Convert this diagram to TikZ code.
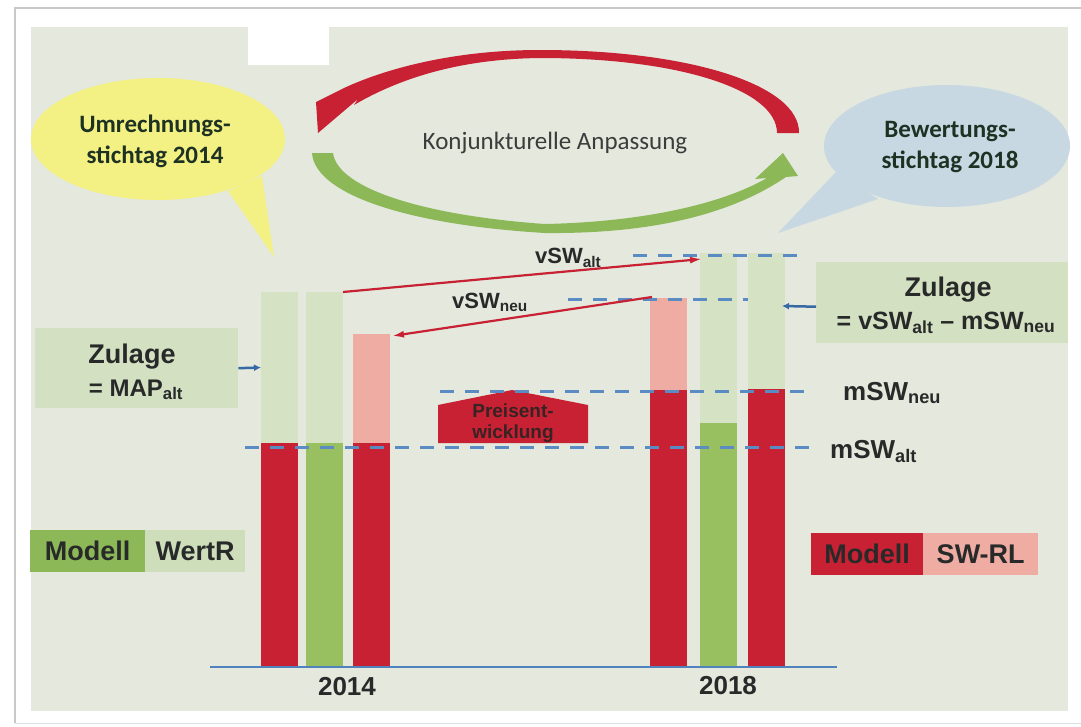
\documentclass[tikz,border=0pt]{standalone}
\usepackage{fontspec}
\usetikzlibrary{arrows.meta}
\newfontfamily\carl{Carlito}
\newfontfamily\lib{Liberation Sans}
\definecolor{bgc}{RGB}{228,232,221}
\definecolor{framec}{RGB}{200,200,200}
\definecolor{yel}{RGB}{244,241,132}
\definecolor{blu}{RGB}{200,216,226}
\definecolor{redc}{RGB}{201,33,52}
\definecolor{pinkc}{RGB}{238,172,162}
\definecolor{lgrn}{RGB}{214,226,196}
\definecolor{grn}{RGB}{152,192,96}
\definecolor{agrn}{RGB}{140,184,88}
\definecolor{zbox}{RGB}{211,224,193}
\definecolor{wbox}{RGB}{206,221,186}
\definecolor{dashc}{RGB}{90,140,195}
\definecolor{basec}{RGB}{80,130,190}
\definecolor{bluarr}{RGB}{55,105,165}
\definecolor{txt}{RGB}{40,42,42}
\definecolor{ttl}{RGB}{30,50,35}
\tikzset{
  barbox/.style={inner sep=0pt, outer sep=0pt, anchor=north west, minimum width=37pt},
  dline/.style={draw=dashc, line width=3pt, dash pattern=on 14pt off 11pt},
  redcon/.style={draw=redc, line width=2.2pt, -{Latex[length=12pt,width=7pt]}},
  bluar/.style={draw=bluarr, line width=2.5pt, -{Latex[length=7pt,width=7pt]}},
  lbl/.style={text=txt, font=\lib\bfseries\fontsize{22}{26}\selectfont, inner sep=0pt},
  mlbl/.style={text=txt, font=\lib\bfseries\fontsize{26}{30}\selectfont, inner sep=0pt},
  legbox/.style={anchor=north west, inner sep=0pt, minimum height=42pt, text=txt,
    font=\lib\bfseries\fontsize{27}{30}\selectfont},
  bubtxt/.style={text=ttl, align=center, font=\carl\bfseries\fontsize{25}{31}\selectfont},
}
\begin{document}
\begin{tikzpicture}[x=1pt,y=-1pt]
\useasboundingbox (0,0) rectangle (1081,726);
\fill[white] (0,0) rectangle (1081,726);
% faint scan frame
\draw[framec, line width=1.5pt] (15,723) -- (15,8) -- (1081,8);
\draw[framec!60, line width=1pt] (15,723) -- (1081,723);
% background
\fill[bgc] (31,27) rectangle (1068,711);
\fill[white] (248,27) rectangle (329,65);

% speech bubbles
\fill[yel] (158,139) ellipse [x radius=127pt, y radius=61pt];
\fill[yel] (228,191) -- (262,176) -- (274,257) -- cycle;
\fill[blu] (947,146) ellipse [x radius=123pt, y radius=61pt];
\fill[blu] (836,172) -- (878,199) -- (778,233) -- cycle;
\node[bubtxt] (ubub) at (155,141) {Umrechnungs-\\stichtag 2014};
\node[bubtxt] (bbub) at (950,147) {Bewertungs-\\stichtag 2018};

% cycle arrows
\fill[redc] (799,133) .. controls (800,85) and (690,50) .. (540,50)
  .. controls (440,50) and (370,75) .. (340,90) -- (316,102) -- (318,133)
  -- (358,99) -- (354,105)
  .. controls (400,78) and (460,59) .. (540,58)
  .. controls (680,58) and (777,90) .. (777,133) -- cycle;
\fill[agrn] (312,153) .. controls (315,195) and (410,225) .. (545,233)
  .. controls (650,234) and (730,215) .. (786,177)
  -- (798,176) -- (783,153) -- (755,179) -- (767,178)
  .. controls (720,205) and (640,222) .. (545,224)
  .. controls (430,216) and (338,190) .. (333,153) -- cycle;
\node[text={rgb,255:red,60;green,60;blue,60}, font=\carl\fontsize{25}{30}\selectfont] (konj) at (555,143) {Konjunkturelle Anpassung};

% Zulage boxes
\node[fill=zbox, anchor=north west, inner sep=0pt, minimum width=203pt, minimum height=80pt] (ZulL) at (35,328) {};
\node[anchor=base, text=txt, inner sep=0pt, font=\lib\bfseries\fontsize{27}{30}\selectfont] (zl1) at (132,363) {Zulage};
\node[anchor=base, text=txt, inner sep=0pt, font=\lib\bfseries\fontsize{24}{28}\selectfont] (zl2) at (136,396) {= MAP\textsubscript{alt}};
\node[fill=zbox, anchor=north west, inner sep=0pt, minimum width=252pt, minimum height=81pt] (ZulR) at (816,262) {};
\node[anchor=base, text=txt, inner sep=0pt, font=\lib\bfseries\fontsize{27}{30}\selectfont] (zr1) at (948,296) {Zulage};
\node[anchor=base, text=txt, inner sep=0pt, font=\lib\bfseries\fontsize{25}{28}\selectfont] (zr2) at (946,329) {= vSW\textsubscript{alt} \textendash{} mSW\textsubscript{neu}};

% bars 2014
\node[barbox, fill=lgrn, minimum height=151pt] (B1t) at (261,292) {};
\node[barbox, fill=redc, minimum height=224pt] (B1b) at (261,443) {};
\node[barbox, fill=lgrn, minimum height=151pt] (B2t) at (306,292) {};
\node[barbox, fill=grn, minimum height=224pt] (B2b) at (306,443) {};
\node[barbox, fill=pinkc, minimum height=109pt] (B3t) at (353,334) {};
\node[barbox, fill=redc, minimum height=224pt] (B3b) at (353,443) {};
% bars 2018
\node[barbox, fill=pinkc, minimum height=92pt] (C1t) at (650,298) {};
\node[barbox, fill=redc, minimum height=277pt] (C1b) at (650,390) {};
\node[barbox, fill=lgrn, minimum height=170pt] (C2t) at (700,253) {};
\node[barbox, fill=grn, minimum height=244pt] (C2b) at (700,423) {};
\node[barbox, fill=lgrn, minimum height=136pt] (C3t) at (748,253) {};
\node[barbox, fill=redc, minimum height=278pt] (C3b) at (748,389) {};

% Preisentwicklung
\fill[redc] (438,443) -- (438,405) -- (512,390) -- (588,405) -- (588,443) -- cycle;
\node[align=center, text={rgb,255:red,55;green,35;blue,35}, font=\lib\bfseries\fontsize{19}{21}\selectfont] (preis) at (513,423) {Preisent-\\wicklung};

% dashed levels
\draw[dline] (633,255) -- (797,255);
\draw[dline] (568,299) -- (748,299);
\draw[dline] (440,391) -- (805,391);
\draw[dline] (245,447) -- (812,447);
% base line
\draw[basec, line width=2.5pt] (210,667) -- (837,667);

% connectors
\draw[redcon] (B2t.north east) -- ([xshift=2pt,yshift=-6pt]C2t.north west);
\draw[redcon] ([xshift=2pt,yshift=1pt]C1t.north west) -- ([xshift=2pt,yshift=-2pt]B3t.north east);
\draw[bluar] (ZulL.east) -- (B1t.west);
\coordinate (rtip) at (782,306);
\draw[bluar] ([yshift=-4pt]ZulR.west) -- (rtip);

% labels
\node[lbl, anchor=base west] (vswalt) at (535,263) {vSW\textsubscript{alt}};
\node[lbl, anchor=base west] (vswneu) at (452,308) {vSW\textsubscript{neu}};
\node[mlbl, anchor=base west] (mswneu) at (843,400) {mSW\textsubscript{neu}};
\node[mlbl, anchor=base west] (mswalt) at (830,458) {mSW\textsubscript{alt}};

% legends
\node[legbox, fill=agrn, minimum width=115pt] (LM) at (30,530) {Modell};
\node[legbox, fill=wbox, minimum width=100pt] (LW) at (145,530) {WertR};
\node[legbox, fill=redc, minimum width=112pt] (RM) at (811,533) {Modell};
\node[legbox, fill=pinkc, minimum width=115pt] (RS) at (923,533) {SW-RL};

% years
\node[text=txt, font=\lib\bfseries\fontsize{26}{30}\selectfont] (y14) at (347,687) {2014};
\node[text=txt, font=\lib\bfseries\fontsize{26}{30}\selectfont] (y18) at (728,686) {2018};
\end{tikzpicture}
\end{document}
